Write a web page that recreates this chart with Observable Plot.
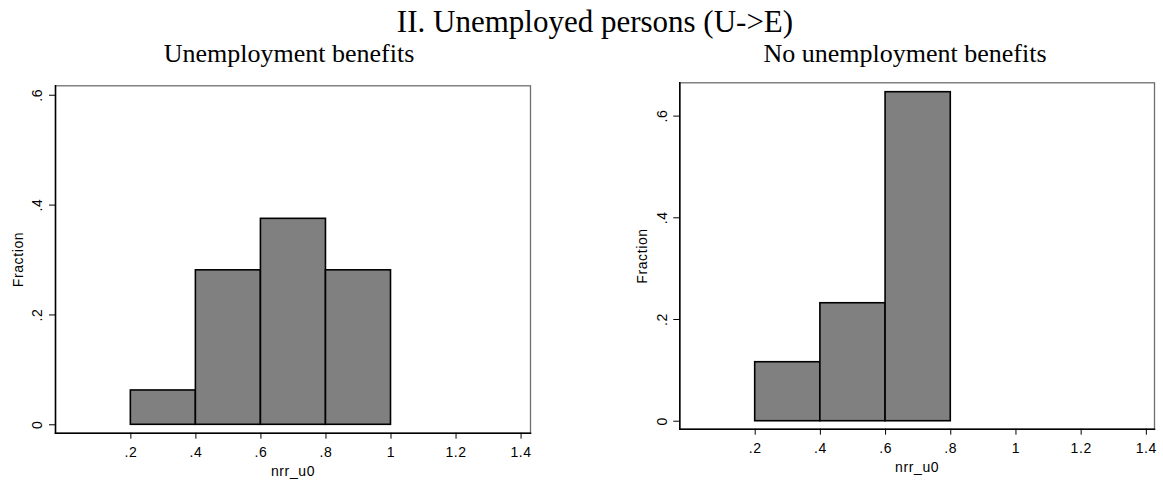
<!DOCTYPE html>
<html>
<head>
<meta charset="utf-8">
<script src="https://cdn.jsdelivr.net/npm/d3@7"></script>
<script src="https://cdn.jsdelivr.net/npm/@observablehq/plot@0.6"></script>
<style>
  html, body { margin: 0; padding: 0; background: #fff; }
  #page { position: relative; width: 1163px; height: 481px; overflow: hidden; background: #fff; }
  .serif { position: absolute; font-family: "Liberation Serif", "Times New Roman", serif; color: #000; white-space: nowrap; line-height: 1; }
  .panel { position: absolute; top: 0; }
</style>
</head>
<body>
<div id="page"></div>
<script>
// Histogram of nrr_u0 (bin width 0.2), fraction of observations per bin
const mainTitle = "II. Unemployed persons (U->E)";
const panelTitles = ["Unemployment benefits", "No unemployment benefits"];
const binWidth = 0.2;
const benefitsBinStarts = [0.2, 0.4, 0.6, 0.8];
const benefitsFractions = [0.0625, 0.28125, 0.375, 0.28125];
const noBenefitsBinStarts = [0.2, 0.4, 0.6];
const noBenefitsFractions = [0.116, 0.232, 0.647];
const xTicks = [0.2, 0.4, 0.6, 0.8, 1, 1.2, 1.4];
const yTicks = [0, 0.2, 0.4, 0.6];
const xLabel = "nrr_u0";
const yLabel = "Fraction";

// Stata-style number labels: drop the leading zero (".2", ".4", ...)
const fmt = d => (d === 0 ? "0" : String(+d.toFixed(2)).replace(/^0\./, "."));

const page = document.getElementById("page");

function histogram({starts, fractions, left, width, marginLeft, marginRight, marginTop, marginBottom, xDomain, yDomain}) {
  const bins = starts.map((s, i) => ({x1: s, x2: s + binWidth, y: fractions[i]}));
  const sans = "'Liberation Sans', Arial, sans-serif";
  const chart = Plot.plot({
    width, height: 481,
    marginLeft, marginRight, marginTop, marginBottom,
    style: {fontFamily: sans, fontSize: "14px", letterSpacing: "0.6px", color: "#000", background: "transparent"},
    x: {domain: xDomain, axis: null},
    y: {domain: yDomain, axis: null},
    marks: [
      Plot.frame({stroke: "#6e6e6e", strokeWidth: 1.3}),
      Plot.rectY(bins, {x1: "x1", x2: "x2", y: "y", inset: 0, fill: "#808080", stroke: "#000", strokeWidth: 1.6}),
      Plot.frame({anchor: "left", stroke: "#000", strokeWidth: 1.5}),
      Plot.frame({anchor: "bottom", stroke: "#000", strokeWidth: 1.5}),
      Plot.axisX({ticks: xTicks, tickSize: 6, tickPadding: 8, tickFormat: fmt, fontSize: 14, stroke: "#000", fill: "#000", label: null}),
      Plot.axisY({ticks: yTicks, tickSize: 6, tickFormat: () => "", stroke: "#000", label: null}),
      Plot.text(yTicks, {y: d => d, text: fmt, frameAnchor: "left", dx: -17.5, rotate: -90,
        textAnchor: "middle", lineAnchor: "middle", fontSize: 14, fill: "#000"}),
      Plot.text([yLabel], {frameAnchor: "left", dx: -37, rotate: -90, textAnchor: "middle",
        lineAnchor: "middle", fontSize: 14, fill: "#000"}),
      Plot.text([xLabel], {frameAnchor: "bottom", dy: 38.5, textAnchor: "middle", lineAnchor: "middle",
        fontSize: 14, fill: "#000"})
    ]
  });
  chart.classList.add("panel");
  chart.style.left = left + "px";
  page.appendChild(chart);
}

histogram({
  starts: benefitsBinStarts, fractions: benefitsFractions,
  left: 0, width: 580, marginLeft: 55, marginRight: 50, marginTop: 85.3, marginBottom: 48.3,
  xDomain: [-0.0317, 1.429], yDomain: [-0.0153, 0.6172]
});

histogram({
  starts: noBenefitsBinStarts, fractions: noBenefitsFractions,
  left: 580, width: 583, marginLeft: 99.3, marginRight: 9, marginTop: 82.3, marginBottom: 52.3,
  xDomain: [-0.0313, 1.425], yDomain: [-0.0157, 0.6655]
});

// Titles
function serifText(text, size, cx, baseline) {
  const el = document.createElement("div");
  el.className = "serif";
  el.style.fontSize = size + "px";
  el.textContent = text;
  page.appendChild(el);
  const w = el.getBoundingClientRect().width;
  el.style.left = (cx - w / 2) + "px";
  // line-height 1: baseline sits at about 0.891em from the top for Liberation Serif
  el.style.top = (baseline - 0.891 * size) + "px";
}

serifText(mainTitle, 31, 595, 33.5);
serifText(panelTitles[0], 26, 289, 64.5);
serifText(panelTitles[1], 26, 905, 64.5);
</script>
</body>
</html>
